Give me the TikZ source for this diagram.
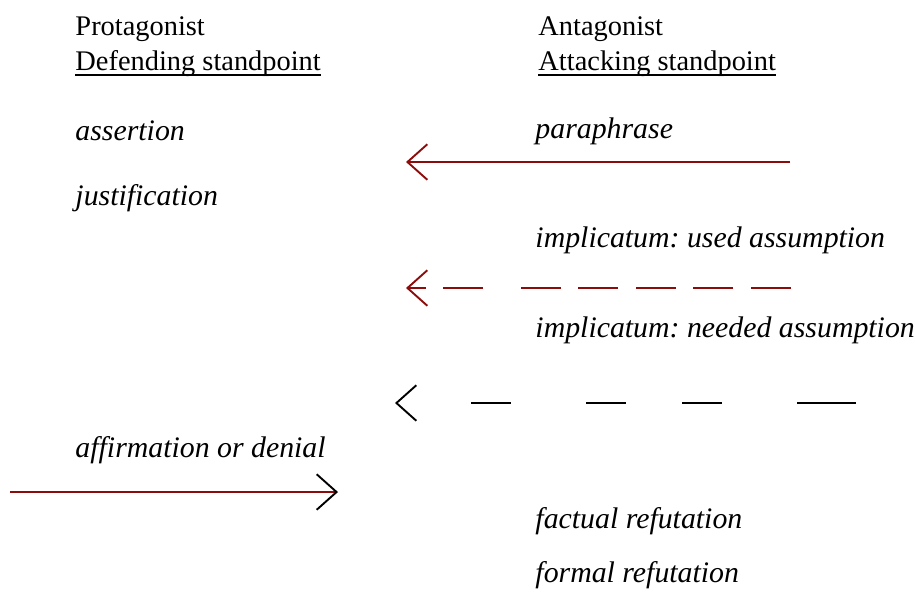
\documentclass[tikz,border=0pt]{standalone}
\usepackage{fontspec}
\setmainfont{Liberation Serif}
\usepackage{tikz}
\usetikzlibrary{arrows.meta}
\definecolor{argred}{RGB}{140,12,12}
\frenchspacing

\begin{document}
\begin{tikzpicture}[
	x=0.4225pt, y=-0.4225pt,
	every node/.style={
		anchor=base west,
		inner sep=0pt,
		font=\fontsize{12}{14}\selectfont
	},
	move/.style={font=\fontsize{12.6}{15}\selectfont\itshape},
	attack/.style={line width=0.8pt},
	barb/.style={-{Straight Barb[length=8.4pt,width=15pt,#1]}},
	barb/.default={},
	rule/.style={line width=0.6pt}
]
\useasboundingbox (0,0) rectangle (915,603);
% column heads
\node (prot) at (75,35) {Protagonist};
\node (protstand) at (75,70) {Defending standpoint};
\node (antag) at (538,35) {Antagonist};
\node (antagstand) at (538,70) {Attacking standpoint};
\draw[rule] ([yshift=-2.1pt]protstand.base west) -- ([yshift=-2.1pt]protstand.base east);
\draw[rule] ([yshift=-2.1pt]antagstand.base west) -- ([yshift=-2.1pt]antagstand.base east);
% moves
\node[move] (assertion) at (75,140) {assertion};
\node[move] (paraphrase) at (535,138) {paraphrase};
\node[move] (justification) at (75,205) {justification};
\node[move] (usedass) at (535,247) {implicatum: used assumption};
\node[move] (neededass) at (535,337) {implicatum: needed assumption};
\node[move] (affirm) at (75,457) {affirmation or denial};
\node[move] (factual) at (535,528) {factual refutation};
\node[move] (formal) at (535,582) {formal refutation};
% arrow ends
\coordinate (para-s) at (790,162);
\coordinate (para-e) at (406,162);
\coordinate (used-s) at (791,288);
\coordinate (used-e) at (406,288);
\coordinate (need-s) at (856,403);
\coordinate (need-e) at (395,403);
\coordinate (aff-s) at (10,492);
\coordinate (aff-e) at (338,492);
% arrows
\draw[attack, argred, barb] (para-s) -- (para-e);
\draw[attack, argred, barb,
	dash pattern=on 16.9pt off 7.6pt on 16.9pt off 7.2pt on 16.9pt off 7.6pt
	on 16.9pt off 7.2pt on 16.9pt off 16.1pt on 16.9pt off 7.2pt on 20pt off 2pt]
	(used-s) -- (used-e);
\draw[attack, black, barb,
	dash pattern=on 24.9pt off 31.7pt on 16.9pt off 23.7pt on 16.9pt off 31.7pt
	on 16.9pt off 40pt]
	(need-s) -- (need-e);
\draw[attack, argred, barb=black] (aff-s) -- (aff-e);
\end{tikzpicture}
\end{document}
